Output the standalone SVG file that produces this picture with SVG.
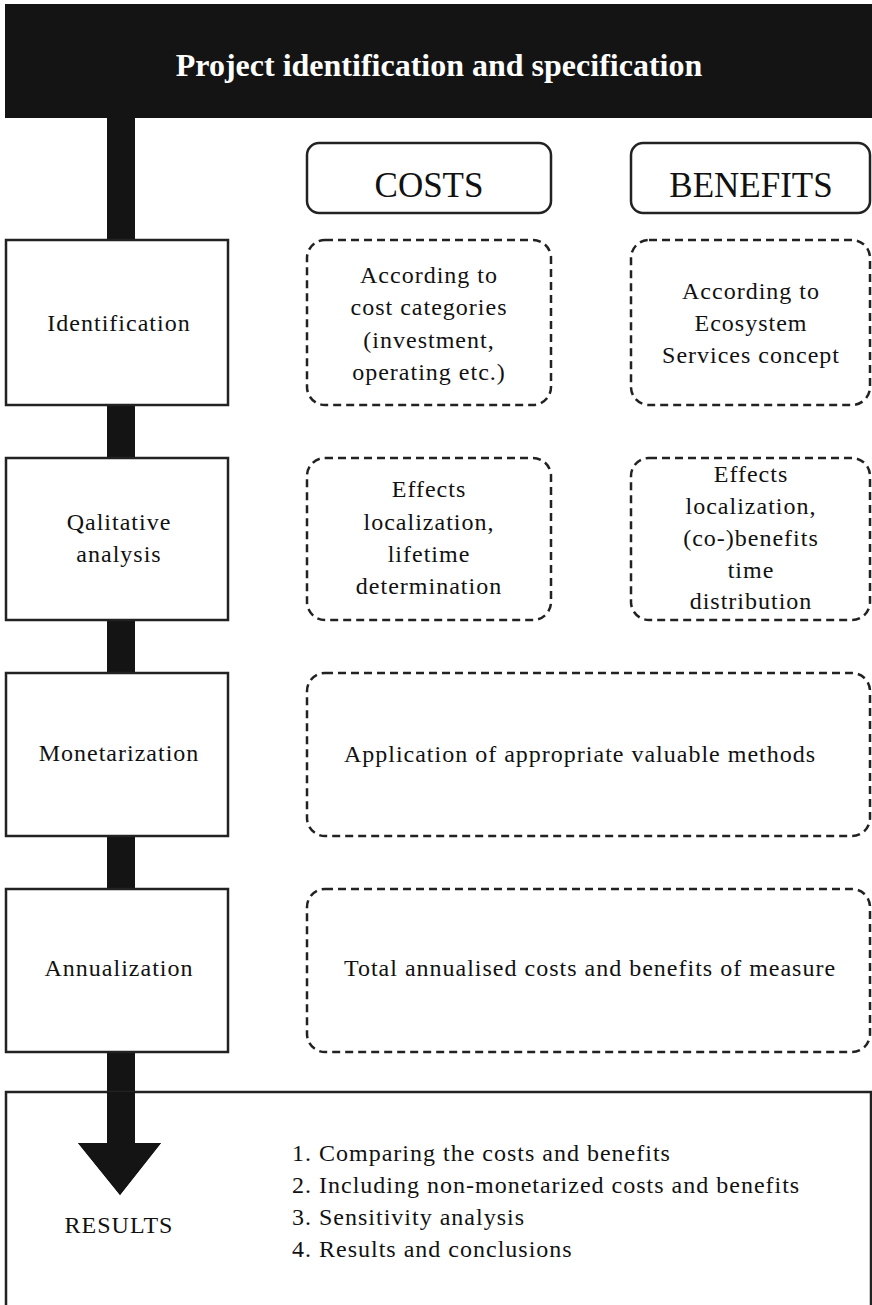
<svg xmlns="http://www.w3.org/2000/svg" width="872" height="1305" viewBox="0 0 872 1305">
<style>
.t{font-family:"Liberation Serif","Times New Roman",serif;font-size:24px;letter-spacing:1px;fill:#111;text-anchor:middle}
.l{font-family:"Liberation Serif","Times New Roman",serif;font-size:24px;letter-spacing:1px;fill:#111;text-anchor:start}
.hdr{font-family:"Liberation Serif","Times New Roman",serif;font-size:32px;font-weight:bold;fill:#fff;text-anchor:middle}
.cap{font-family:"Liberation Serif","Times New Roman",serif;font-size:35px;fill:#111;text-anchor:middle}
.solid{fill:#fff;stroke:#222;stroke-width:2.5}
.dash{fill:#fff;stroke:#222;stroke-width:2.5;stroke-dasharray:8 5}
.head{fill:#fff;stroke:#222;stroke-width:2.5}
</style>
<rect width="872" height="1305" fill="#fff"/>
<g id="connectors">
  <path d="M107 118 H135 V1143 H161 L120 1195 L78 1143 H107 Z" fill="#141414"/>
</g>
<g id="header">
  <rect x="5" y="4" width="867" height="114" fill="#141414"/>
  <text class="hdr" x="439" y="76">Project identification and specification</text>
</g>
<g id="costs">
  <rect class="head" x="307" y="143" width="244" height="70" rx="12"/>
  <text class="cap" x="429" y="197">COSTS</text>
</g>
<g id="benefits">
  <rect class="head" x="631" y="143" width="239" height="70" rx="12"/>
  <text class="cap" x="751" y="197">BENEFITS</text>
</g>
<g id="identification">
  <rect class="solid" x="6" y="240" width="222" height="165"/>
  <text class="t" x="119" y="331">Identification</text>
</g>
<g id="qualitative">
  <rect class="solid" x="6" y="458" width="222" height="162"/>
  <text class="t" x="119" y="530">Qalitative</text>
  <text class="t" x="119" y="562">analysis</text>
</g>
<g id="monetarization">
  <rect class="solid" x="6" y="673" width="222" height="163"/>
  <text class="t" x="119" y="761">Monetarization</text>
</g>
<g id="annualization">
  <rect class="solid" x="6" y="889" width="222" height="163"/>
  <text class="t" x="119" y="976">Annualization</text>
</g>
<g id="costs-identification">
  <rect class="dash" x="307" y="240" width="244" height="165" rx="18"/>
  <text class="t" x="429" y="283">According to</text>
  <text class="t" x="429" y="315">cost categories</text>
  <text class="t" x="429" y="348">(investment,</text>
  <text class="t" x="429" y="380">operating etc.)</text>
</g>
<g id="benefits-identification">
  <rect class="dash" x="631" y="240" width="239" height="165" rx="18"/>
  <text class="t" x="751" y="299">According to</text>
  <text class="t" x="751" y="331">Ecosystem</text>
  <text class="t" x="751" y="363">Services concept</text>
</g>
<g id="costs-qualitative">
  <rect class="dash" x="307" y="458" width="244" height="162" rx="18"/>
  <text class="t" x="429" y="497">Effects</text>
  <text class="t" x="429" y="530">localization,</text>
  <text class="t" x="429" y="562">lifetime</text>
  <text class="t" x="429" y="594">determination</text>
</g>
<g id="benefits-qualitative">
  <rect class="dash" x="631" y="458" width="239" height="162" rx="18"/>
  <text class="t" x="751" y="482">Effects</text>
  <text class="t" x="751" y="514">localization,</text>
  <text class="t" x="751" y="546">(co-)benefits</text>
  <text class="t" x="751" y="578">time</text>
  <text class="t" x="751" y="609">distribution</text>
</g>
<g id="monetarization-methods">
  <rect class="dash" x="307" y="673" width="563" height="163" rx="18"/>
  <text class="t" x="580" y="762">Application of appropriate valuable methods</text>
</g>
<g id="annualization-total">
  <rect class="dash" x="307" y="889" width="563" height="163" rx="18"/>
  <text class="t" x="590" y="976">Total annualised costs and benefits of measure</text>
</g>
<g id="results">
  <rect x="6" y="1092" width="865" height="230" fill="none" stroke="#222" stroke-width="2.5"/>
  <path d="M107 1092 H135 V1143 H161 L120 1195 L78 1143 H107 Z" fill="#141414"/>
  <text class="t" x="119" y="1233">RESULTS</text>
  <text class="l" x="292" y="1161">1. Comparing the costs and benefits</text>
  <text class="l" x="292" y="1193">2. Including non-monetarized costs and benefits</text>
  <text class="l" x="292" y="1225">3. Sensitivity analysis</text>
  <text class="l" x="292" y="1257">4. Results and conclusions</text>
</g>
</svg>
